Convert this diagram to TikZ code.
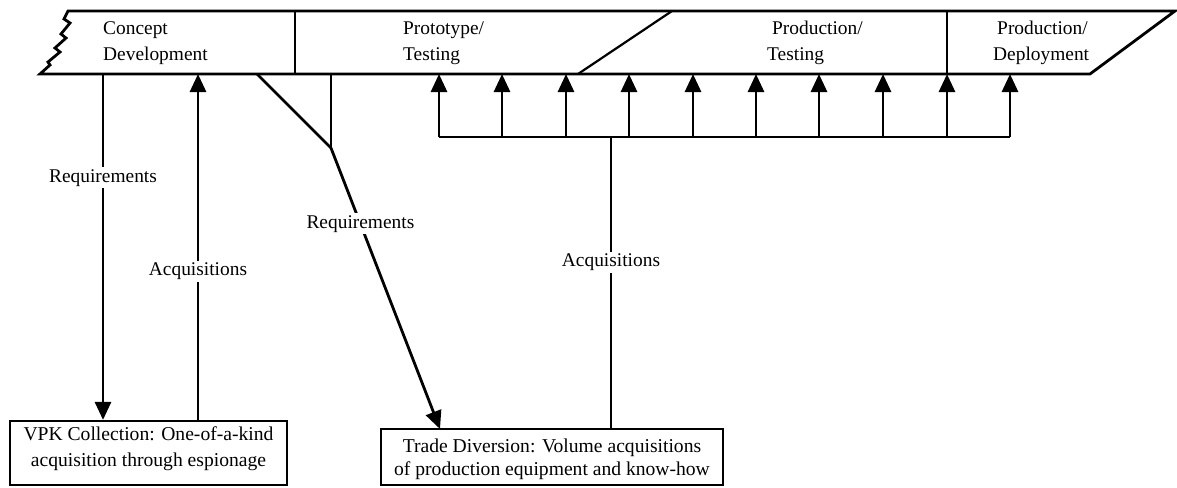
\documentclass[tikz,border=0pt]{standalone}
\usepackage{fontspec}
\setmainfont{Liberation Serif}
\usetikzlibrary{arrows.meta}
\begin{document}
\begin{tikzpicture}[x=1pt,y=-1pt,
  every node/.style={font=\fontsize{19.4}{25}\selectfont},
  band/.style={line width=2.8pt,line join=miter},
  divider/.style={line width=2.2pt},
  conn/.style={line width=2.8pt},
  arr/.style={conn,-{Triangle[length=18pt,width=16pt]}},
  lbl/.style={fill=white,inner sep=2pt},
  boxframe/.style={draw,line width=2.2pt,inner sep=0pt},
  boxtext/.style={align=center,inner sep=0pt,anchor=base},
  hdr/.style={anchor=base west,inner sep=0pt}]
\useasboundingbox (0,0) rectangle (1177,487);
% band
\draw[band] (40,74) -- (50,65) -- (48,62) -- (60,52) -- (55,48) -- (66,38) -- (61,34) -- (70,23) -- (64,19) -- (68,11)
  -- (1175,11) -- (1090,74) -- cycle;
\draw[divider] (295,11) -- (295,74);
\draw[divider] (578,74) -- (672,11);
\draw[divider] (947,11) -- (947,74);
% phase labels
\node[hdr] (cd1) at (103,35) {Concept};
\node[hdr] (cd2) at (103,60) {Development};
\node[hdr] (pt1) at (403,35) {Prototype/};
\node[hdr] (pt2) at (403,60) {Testing};
\node[hdr] (ps1) at (772,35) {Production/};
\node[hdr] (ps2) at (767,60) {Testing};
\node[hdr] (pd1) at (997,35) {Production/};
\node[hdr] (pd2) at (993,60) {Deployment};
% boxes
\node[boxframe,minimum width=277pt,minimum height=64pt] (vpk) at (148.5,453) {};
\node[boxtext,font=\fontsize{19.6}{26}\selectfont] (vpkt) at (148.5,466) {VPK Collection: One-of-a-kind\\acquisition through espionage};
\node[boxframe,minimum width=342pt,minimum height=56pt] (td) at (552,457) {};
\node[boxtext,font=\fontsize{19.6}{22.5}\selectfont] (tdt) at (552,475) {Trade Diversion: Volume acquisitions\\of production equipment and know-how};
% left arrows
\coordinate (reqtop) at (103,74);
\coordinate (acqtop) at (198,74);
\draw[arr] (reqtop) -- node[lbl,pos=0.3] (req1) {Requirements} (reqtop |- vpk.north);
\draw[arr] (acqtop |- vpk.north) -- node[lbl,pos=0.43] (acq1) {Acquisitions} (acqtop);
% Y branch
\coordinate (ya) at (257,74);
\coordinate (yb) at (331,74);
\coordinate (yj) at (331,148);
\coordinate (tdtip) at (440,429);
\draw[conn] (ya) -- (yj);
\draw[conn] (yb) -- (yj);
\draw[arr] (yj) -- node[lbl,pos=0.27] (req2) {Requirements} (tdtip);
% fan of acquisition arrows
\foreach \x [count=\i] in {439,502,566,629,693,756,819,883,947,1010}{
  \coordinate (b\i) at (\x,137);
  \coordinate (t\i) at (\x,74);
  \draw[arr] (b\i) -- (t\i);
}
\draw[conn] (b1) -- (b10);
\coordinate (trunk) at (611,137);
\draw[conn] (td.north -| trunk) -- node[lbl,pos=0.57] (acq2) {Acquisitions} (trunk);
\end{tikzpicture}
\end{document}
